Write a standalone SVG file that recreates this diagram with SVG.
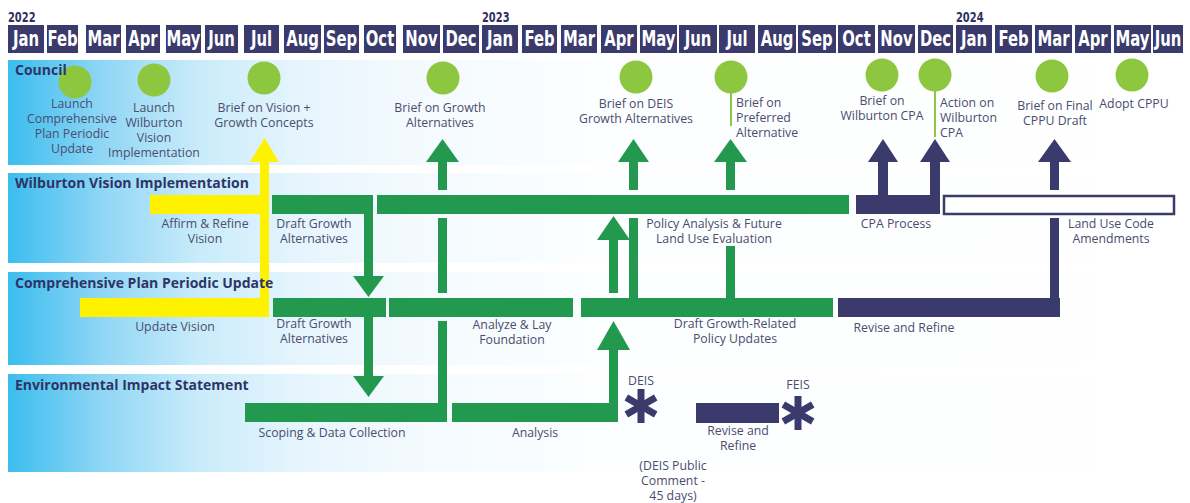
<svg xmlns="http://www.w3.org/2000/svg" width="1190" height="503" viewBox="0 0 1190 503">
<defs>
<linearGradient id="band" gradientUnits="userSpaceOnUse" x1="8" y1="0" x2="1183" y2="0">
<stop offset="0" stop-color="#3bbdee"/>
<stop offset="0.08" stop-color="#8fd6f5"/>
<stop offset="0.16" stop-color="#c8ebfa"/>
<stop offset="0.25" stop-color="#e6f5fd"/>
<stop offset="0.34" stop-color="#f3fafe"/>
<stop offset="0.5" stop-color="#fcfeff"/>
<stop offset="1" stop-color="#ffffff"/>
</linearGradient>
</defs>
<style>
.mo{fill:#3a3a6c}
.mt{font-family:"DejaVu Sans Condensed","DejaVu Sans",sans-serif;font-stretch:condensed;font-weight:bold;font-size:16.5px;fill:#ffffff;text-anchor:middle}
.yr{font-family:"DejaVu Sans Condensed","DejaVu Sans",sans-serif;font-stretch:condensed;font-weight:bold;font-size:11px;fill:#2f3061}
.band{fill:url(#band)}
.lt{font-family:"Open Sans","DejaVu Sans",sans-serif;font-weight:bold;font-size:14px;fill:#2e3566}
.lb{font-family:"Open Sans","DejaVu Sans",sans-serif;font-size:12.3px;fill:#4a4d6e;text-anchor:middle}
.ll{font-family:"Open Sans","DejaVu Sans",sans-serif;font-size:12.3px;fill:#4a4d6e;text-anchor:start}
.g{fill:#23994f}
.n{fill:#3a3a6c}
.y{fill:#fff200}
.ms{fill:#8dc63f}
.stem{stroke:#8dc63f;stroke-width:2}
.ast{stroke:#3a3a6c;stroke-width:7;fill:none}
.box{fill:#ffffff;stroke:#3a3a6c;stroke-width:2.5}
</style>

<rect width="1190" height="503" fill="#ffffff"/>

<g id="header">
<rect class="mo" x="8" y="25" width="36" height="28"/>
<rect class="mo" x="47" y="25" width="31" height="28"/>
<rect class="mo" x="86" y="25" width="35" height="28"/>
<rect class="mo" x="126" y="25" width="34" height="28"/>
<rect class="mo" x="166" y="25" width="35" height="28"/>
<rect class="mo" x="205" y="25" width="33" height="28"/>
<rect class="mo" x="244" y="25" width="35" height="28"/>
<rect class="mo" x="284" y="25" width="37" height="28"/>
<rect class="mo" x="324" y="25" width="35" height="28"/>
<rect class="mo" x="364" y="25" width="32" height="28"/>
<rect class="mo" x="403" y="25" width="37" height="28"/>
<rect class="mo" x="443" y="25" width="36" height="28"/>
<rect class="mo" x="482" y="25" width="36" height="28"/>
<rect class="mo" x="522" y="25" width="35" height="28"/>
<rect class="mo" x="561" y="25" width="36" height="28"/>
<rect class="mo" x="601" y="25" width="36" height="28"/>
<rect class="mo" x="640" y="25" width="37" height="28"/>
<rect class="mo" x="679" y="25" width="38" height="28"/>
<rect class="mo" x="719" y="25" width="36" height="28"/>
<rect class="mo" x="758" y="25" width="38" height="28"/>
<rect class="mo" x="798" y="25" width="38" height="28"/>
<rect class="mo" x="838" y="25" width="37" height="28"/>
<rect class="mo" x="878" y="25" width="37" height="28"/>
<rect class="mo" x="918" y="25" width="35" height="28"/>
<rect class="mo" x="956" y="25" width="36" height="28"/>
<rect class="mo" x="995" y="25" width="37" height="28"/>
<rect class="mo" x="1035" y="25" width="37" height="28"/>
<rect class="mo" x="1075" y="25" width="36" height="28"/>
<rect class="mo" x="1114" y="25" width="37" height="28"/>
<rect class="mo" x="1153" y="25" width="30" height="28"/>
<g transform="matrix(1,0,0,1.25,0,-11.5)">
<text class="yr" x="8" y="26.8">2022</text>
<text class="yr" x="482" y="26.8">2023</text>
<text class="yr" x="956" y="26.8">2024</text>
<text class="mt" x="26" y="46">Jan</text>
<text class="mt" x="62.5" y="46">Feb</text>
<text class="mt" x="103.5" y="46">Mar</text>
<text class="mt" x="143" y="46">Apr</text>
<text class="mt" x="183.5" y="46">May</text>
<text class="mt" x="221.5" y="46">Jun</text>
<text class="mt" x="261.5" y="46">Jul</text>
<text class="mt" x="302.5" y="46">Aug</text>
<text class="mt" x="341.5" y="46">Sep</text>
<text class="mt" x="380" y="46">Oct</text>
<text class="mt" x="421.5" y="46">Nov</text>
<text class="mt" x="461" y="46">Dec</text>
<text class="mt" x="500" y="46">Jan</text>
<text class="mt" x="539.5" y="46">Feb</text>
<text class="mt" x="579" y="46">Mar</text>
<text class="mt" x="619" y="46">Apr</text>
<text class="mt" x="658.5" y="46">May</text>
<text class="mt" x="698" y="46">Jun</text>
<text class="mt" x="737" y="46">Jul</text>
<text class="mt" x="777" y="46">Aug</text>
<text class="mt" x="817" y="46">Sep</text>
<text class="mt" x="856.5" y="46">Oct</text>
<text class="mt" x="896.5" y="46">Nov</text>
<text class="mt" x="935.5" y="46">Dec</text>
<text class="mt" x="974" y="46">Jan</text>
<text class="mt" x="1013.5" y="46">Feb</text>
<text class="mt" x="1053.5" y="46">Mar</text>
<text class="mt" x="1093" y="46">Apr</text>
<text class="mt" x="1132.5" y="46">May</text>
<text class="mt" x="1168" y="46">Jun</text>
</g>
</g>

<g id="lane-bands">
<rect class="band" x="8" y="60" width="1175" height="105"/>
<rect class="band" x="8" y="173" width="1175" height="90"/>
<rect class="band" x="8" y="272" width="1175" height="93"/>
<rect class="band" x="8" y="374" width="1175" height="98"/>
</g>

<g id="connectors">
<rect class="y" x="260" y="160" width="9" height="157"/>
<polygon class="y" points="250,162 264.5,138 279,162"/>
<rect class="g" x="364" y="205" width="9" height="73"/>
<polygon class="g" points="353,276 368.5,297 384,276"/>
<rect class="g" x="364" y="310" width="9" height="68"/>
<polygon class="g" points="353,376 368.5,397 384,376"/>
<rect class="g" x="438" y="321" width="9" height="90"/>
<rect class="g" x="438" y="218" width="9" height="75"/>
<rect class="g" x="438" y="160" width="9" height="30"/>
<polygon class="g" points="426,162 442.5,139 459,162"/>
<rect class="g" x="609" y="348" width="9" height="62"/>
<polygon class="g" points="597,350 613.5,321 630,350"/>
<rect class="g" x="609" y="238" width="9" height="55"/>
<polygon class="g" points="597,240 613.5,216 630,240"/>
<rect class="g" x="629" y="218" width="9" height="82"/>
<rect class="g" x="629" y="160" width="9" height="30"/>
<polygon class="g" points="618,162 633.5,139 649,162"/>
<rect class="g" x="726" y="246" width="9" height="54"/>
<rect class="g" x="726" y="160" width="9" height="30"/>
<polygon class="g" points="714,162 730.5,139 747,162"/>
<rect class="n" x="878" y="160" width="10" height="40"/>
<polygon class="n" points="868,162 883,139 898,162"/>
<rect class="n" x="930" y="160" width="10" height="40"/>
<polygon class="n" points="920,162 935,139 950,162"/>
<rect class="n" x="1050" y="218" width="9" height="82"/>
<rect class="n" x="1050" y="160" width="9" height="30"/>
<polygon class="n" points="1038,162 1054.5,139 1071,162"/>
</g>

<g id="council-milestones">
<g id="m1"><circle class="ms" cx="75" cy="82" r="16.5"/><text class="lb" x="72" y="108">Launch</text><text class="lb" x="72" y="123">Comprehensive</text><text class="lb" x="72" y="138">Plan Periodic</text><text class="lb" x="72" y="153">Update</text></g>
<g id="m2"><circle class="ms" cx="154" cy="80" r="16.5"/><text class="lb" x="154" y="112">Launch</text><text class="lb" x="154" y="127">Wilburton</text><text class="lb" x="154" y="142">Vision</text><text class="lb" x="154" y="157">Implementation</text></g>
<g id="m3"><circle class="ms" cx="264" cy="78" r="16.5"/><text class="lb" x="264" y="112">Brief on Vision +</text><text class="lb" x="264" y="127">Growth Concepts</text></g>
<g id="m4"><circle class="ms" cx="443" cy="78" r="16.5"/><text class="lb" x="440" y="112">Brief on Growth</text><text class="lb" x="440" y="127">Alternatives</text></g>
<g id="m5"><circle class="ms" cx="636" cy="77" r="16.5"/><text class="lb" x="636" y="108">Brief on DEIS</text><text class="lb" x="636" y="123">Growth Alternatives</text></g>
<g id="m6"><circle class="ms" cx="731" cy="77" r="16.5"/><line class="stem" x1="731" y1="92" x2="731" y2="126"/><text class="ll" x="736" y="107">Brief on</text><text class="ll" x="736" y="122">Preferred</text><text class="ll" x="736" y="137">Alternative</text></g>
<g id="m7"><circle class="ms" cx="882" cy="75" r="16.5"/><text class="lb" x="882" y="105">Brief on</text><text class="lb" x="882" y="120">Wilburton CPA</text></g>
<g id="m8"><circle class="ms" cx="935" cy="75" r="16.5"/><line class="stem" x1="935" y1="90" x2="935" y2="137"/><text class="ll" x="940" y="107">Action on</text><text class="ll" x="940" y="122">Wilburton</text><text class="ll" x="940" y="137">CPA</text></g>
<g id="m9"><circle class="ms" cx="1052" cy="76" r="16.5"/><text class="lb" x="1055" y="110">Brief on Final</text><text class="lb" x="1055" y="125">CPPU Draft</text></g>
<g id="m10"><circle class="ms" cx="1132" cy="75" r="16.5"/><text class="lb" x="1134" y="108">Adopt CPPU</text></g>
</g>

<g id="wilburton-tasks">
<g id="w1"><rect class="y" x="150" y="195" width="119" height="19"/><text class="lb" x="205" y="228">Affirm &amp; Refine</text><text class="lb" x="205" y="243">Vision</text></g>
<g id="w2"><rect class="g" x="272" y="195" width="101" height="19"/><text class="lb" x="314" y="228">Draft Growth</text><text class="lb" x="314" y="243">Alternatives</text></g>
<g id="w3"><rect class="g" x="377" y="195" width="472" height="19"/><text class="lb" x="714" y="228">Policy Analysis &amp; Future</text><text class="lb" x="714" y="243">Land Use Evaluation</text></g>
<g id="w4"><rect class="n" x="856" y="195" width="84" height="19"/><text class="lb" x="896" y="228">CPA Process</text></g>
<g id="w5"><rect class="box" x="944" y="196" width="230" height="18"/><text class="lb" x="1111" y="228">Land Use Code</text><text class="lb" x="1111" y="243">Amendments</text></g>
</g>

<g id="cppu-tasks">
<g id="c1"><rect class="y" x="80" y="298" width="189" height="19"/><text class="lb" x="175" y="331">Update Vision</text></g>
<g id="c2"><rect class="g" x="273" y="298" width="113" height="19"/><text class="lb" x="314" y="328">Draft Growth</text><text class="lb" x="314" y="343">Alternatives</text></g>
<g id="c3"><rect class="g" x="389" y="298" width="184" height="19"/><text class="lb" x="512" y="329">Analyze &amp; Lay</text><text class="lb" x="512" y="344">Foundation</text></g>
<g id="c4"><rect class="g" x="581" y="298" width="252" height="19"/><text class="lb" x="735" y="328">Draft Growth-Related</text><text class="lb" x="735" y="343">Policy Updates</text></g>
<g id="c5"><rect class="n" x="838" y="298" width="222" height="19"/><text class="lb" x="904" y="332">Revise and Refine</text></g>
</g>

<g id="eis-tasks">
<g id="e1"><rect class="g" x="245" y="403" width="202" height="19"/><text class="lb" x="332" y="437">Scoping &amp; Data Collection</text></g>
<g id="e2"><rect class="g" x="452" y="403" width="166" height="19"/><text class="lb" x="535" y="437">Analysis</text></g>
<g id="e3"><text class="lb" x="641" y="385">DEIS</text>
<g class="ast"><line x1="641" y1="389" x2="641" y2="423"/><line x1="626.3" y1="397.5" x2="655.7" y2="414.5"/><line x1="626.3" y1="414.5" x2="655.7" y2="397.5"/></g>
<text class="lb" x="673" y="469.5">(DEIS Public</text><text class="lb" x="673" y="484.5">Comment -</text><text class="lb" x="673" y="499.5">45 days)</text></g>
<g id="e4"><rect class="n" x="696" y="403" width="83" height="20"/><text class="lb" x="738" y="435">Revise and</text><text class="lb" x="738" y="450">Refine</text></g>
<g id="e5"><text class="lb" x="798" y="389">FEIS</text>
<g class="ast"><line x1="798" y1="396" x2="798" y2="430"/><line x1="783.3" y1="404.5" x2="812.7" y2="421.5"/><line x1="783.3" y1="421.5" x2="812.7" y2="404.5"/></g></g>
</g>

<g id="lane-titles">
<text class="lt" x="15" y="75">Council</text>
<text class="lt" x="15" y="188">Wilburton Vision Implementation</text>
<text class="lt" x="15" y="288">Comprehensive Plan Periodic Update</text>
<text class="lt" x="15" y="390">Environmental Impact Statement</text>
</g>
</svg>
